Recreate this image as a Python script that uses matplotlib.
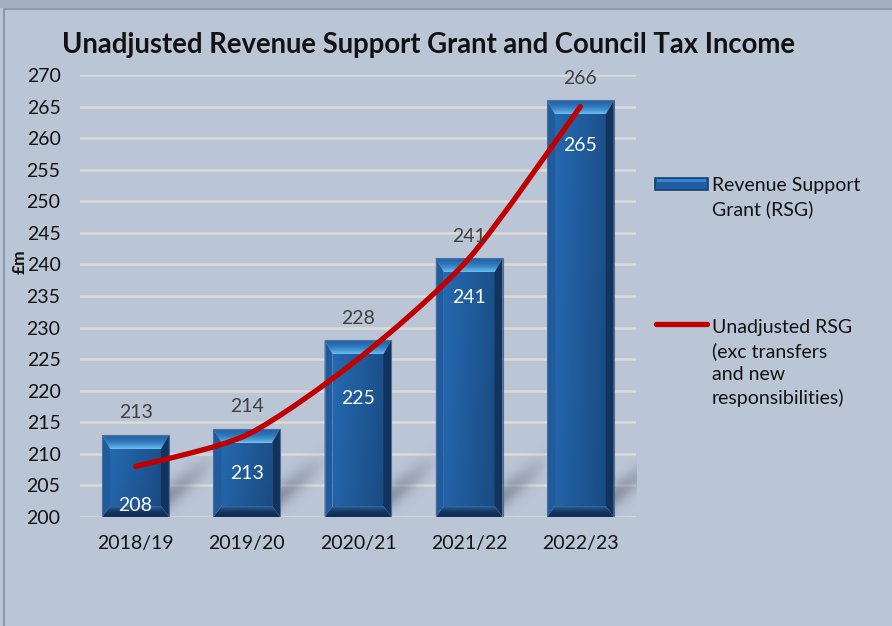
import numpy as np
import matplotlib.pyplot as plt
from matplotlib.patches import Polygon, Rectangle, PathPatch
from matplotlib.path import Path
from matplotlib.lines import Line2D
from matplotlib.colors import LinearSegmentedColormap, to_rgb

years = ["2018/19", "2019/20", "2020/21", "2021/22", "2022/23"]
rsg = [213, 214, 228, 241, 266]
unadjusted_rsg = [208, 213, 225, 241, 265]

BG = "#bac5d6"
W, H = 892, 626
plt.rcParams["font.family"] = ["Lato", "DejaVu Sans"]


def fx(px):
    return px / W


def fy(px):
    # pixel rows counted from the top
    return 1 - px / H


def grad(c1, c2, n=64):
    return LinearSegmentedColormap.from_list("g", [c1, c2], N=n)


fig = plt.figure(figsize=(W / 100, H / 100), dpi=100, facecolor=BG)

# window frame: grey strip across the top and a thin border
fig.patches.append(Rectangle((0, fy(8)), 1, fy(0) - fy(8), transform=fig.transFigure,
                             facecolor="#a6afbe", edgecolor="none", zorder=0))
fig.patches.append(Rectangle((fx(3.5), -0.05), 1.1, fy(8.5) + 0.05, transform=fig.transFigure,
                             facecolor="none", edgecolor="#8d9bb2", lw=1.5, zorder=1))

ax = fig.add_axes([fx(80), fy(517), fx(556), fy(75) - fy(517)])
ax.set_facecolor(BG)
ax.set_xlim(-0.5, 4.5)
ax.set_ylim(200, 270)
ax.set_yticks(range(200, 271, 5))
ax.set_xticks(range(len(years)))
ax.set_xticklabels(years)
ax.tick_params(length=0, labelsize=14, colors="#111111")
ax.tick_params(axis="y", pad=14)
ax.tick_params(axis="x", pad=13)
for s in ax.spines.values():
    s.set_visible(False)
ax.grid(axis="y", color="#dddbd6", lw=1.8, zorder=0)
ax.set_axisbelow(True)

# bevel sizes in data units
inv = ax.transData.inverted()
o = ax.transData.transform((0, 200))
bx = inv.transform(o + np.array([8, 0]))[0] - inv.transform(o)[0]
by_top = inv.transform(o + np.array([0, 14]))[1] - 200
by_bot = inv.transform(o + np.array([0, 11]))[1] - 200

top_cmap = grad("#2467ad", "#66c0f2")
face_cmap = grad("#2569b0", "#1a4b82")
bot_cmap = grad("#0f2f58", "#3368a0")
shadow_rgb = to_rgb("#59616f")


def clipped(img, cmap, ext, clip, z):
    im = ax.imshow(img, cmap=cmap, extent=ext, origin="upper", aspect="auto",
                   zorder=z, interpolation="bilinear", vmin=0, vmax=1)
    im.set_clip_path(clip)


def bevel_bar(x, top, width=0.6, base=200):
    l, r = x - width / 2, x + width / 2
    il, ir, it, ib = l + bx, r - bx, top - by_top, base + by_bot

    # soft diagonal shadow on the floor behind the bar
    u = np.linspace(0, 1, 80)[None, :]
    v = np.linspace(0, 1, 60)[:, None]
    band = np.exp(-((v - (0.25 + 0.45 * u)) / 0.16) ** 2)
    sh = np.zeros((60, 80, 4))
    sh[..., :3] = shadow_rgb
    sh[..., 3] = 0.5 * band * (1 - u) ** 0.8
    ax.imshow(sh, extent=(r, r + 0.42, base, base + min(13, top - base)),
              origin="lower", aspect="auto", zorder=1, interpolation="bilinear")

    # front face, lighter on the left
    g = np.linspace(0, 1, 50)[None, :] * 0.8 + np.linspace(0, 1, 50)[:, None] * 0.2
    clipped(g, face_cmap, (il, ir, ib, it),
            Rectangle((il, ib), ir - il, it - ib, transform=ax.transData), 2)

    # top bevel, bright towards the inner edge
    tp = Polygon([(l, top), (r, top), (ir, it), (il, it)], closed=True,
                 facecolor="none", edgecolor="none")
    ax.add_patch(tp)
    clipped(np.linspace(0, 1, 30)[:, None] ** 2 * np.ones((1, 10)), top_cmap,
            (l, r, it, top), tp, 3)

    # bottom bevel, dark with a light inner edge
    bp = Polygon([(l, base), (r, base), (ir, ib), (il, ib)], closed=True,
                 facecolor="none", edgecolor="none")
    ax.add_patch(bp)
    clipped(np.linspace(1, 0, 30)[:, None] ** 2.5 * np.ones((1, 10)), bot_cmap,
            (l, r, base, ib), bp, 3)

    sides = [
        ([(l, top), (il, it), (il, ib), (l, base)], "#1f5b9d"),
        ([(r, top), (ir, it), (ir, ib), (r, base)], "#12335e"),
    ]
    for pts, c in sides:
        ax.add_patch(Polygon(pts, closed=True, facecolor=c, edgecolor="none", zorder=3))
    ax.add_patch(Rectangle((l, base), width, top - base, facecolor="none",
                           edgecolor="#4d6d9c", lw=0.8, zorder=4))


xs = np.arange(len(years))
for x, v in zip(xs, rsg):
    bevel_bar(x, v)
    ax.annotate(str(v), (x, v), xytext=(0, 22), textcoords="offset pixels",
                ha="center", va="center", color="#404040", fontsize=14, zorder=6)

# smoothed line through the unadjusted RSG values
pts = np.column_stack([xs, unadjusted_rsg]).astype(float)
verts = [pts[0]]
codes = [Path.MOVETO]
for i in range(len(pts) - 1):
    p0 = pts[i - 1] if i > 0 else pts[i]
    p3 = pts[i + 2] if i + 2 < len(pts) else pts[i + 1]
    verts += [pts[i] + (pts[i + 1] - p0) / 8, pts[i + 1] - (p3 - pts[i]) / 8, pts[i + 1]]
    codes += [Path.CURVE4] * 3
ax.add_patch(PathPatch(Path(verts, codes), fill=False, edgecolor="#c00000", lw=3.8,
                       capstyle="round", joinstyle="round", zorder=5))

for x, v in zip(xs, unadjusted_rsg):
    ax.annotate(str(v), (x, v), xytext=(0, -39), textcoords="offset pixels",
                ha="center", va="center", color="white", fontsize=14, zorder=6)

fig.text(fx(428.5), fy(45), "Unadjusted Revenue Support Grant and Council Tax Income",
         ha="center", va="center", fontsize=19.8, fontweight="bold", color="#111111")
fig.text(fx(20), fy(262), "£m", rotation=90, ha="center", va="center",
         fontsize=12.5, fontweight="bold", color="#111111")

# legend
fig.patches.append(Rectangle((fx(655), fy(190)), fx(53), fy(178) - fy(190),
                             transform=fig.transFigure, facecolor="#1f5ea5",
                             edgecolor="#163f6e", lw=1.2, zorder=3))
fig.patches.append(Rectangle((fx(657), fy(182)), fx(49), fy(179) - fy(182),
                             transform=fig.transFigure, facecolor="#3b86cc",
                             edgecolor="none", zorder=4))
fig.text(fx(712), fy(197.5), "Revenue Support\nGrant (RSG)", ha="left", va="center",
         fontsize=14, linespacing=1.42, color="#111111")
fig.lines.append(Line2D([fx(656), fx(707)], [fy(324), fy(324)], transform=fig.transFigure,
                        color="#c00000", lw=3.8, solid_capstyle="round"))
fig.text(fx(712), fy(363), "Unadjusted RSG\n(exc transfers\nand new\nresponsibilities)",
         ha="left", va="center", fontsize=14, linespacing=1.42, color="#111111")

fig.savefig("out.png", dpi=100, facecolor=BG)
